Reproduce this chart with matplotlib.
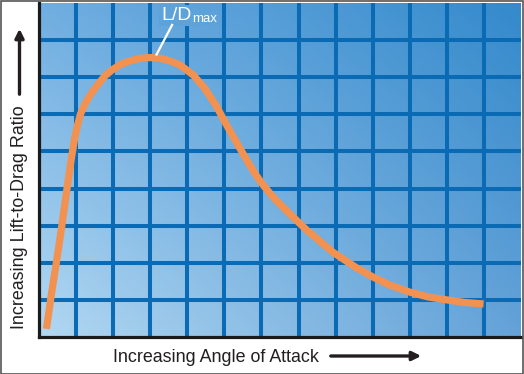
import numpy as np
import matplotlib.pyplot as plt
from matplotlib.patches import Rectangle

# curve (grid cells as units)
aoa = [0.20, 0.34, 0.48, 0.61, 0.75, 0.88, 0.97, 1.04, 1.12, 1.24, 1.40, 1.60,
       1.78, 1.99, 2.21, 2.45, 2.72, 2.99, 3.26, 3.53, 3.80, 4.16, 4.47, 4.79,
       5.06, 5.33, 5.60, 5.82, 6.04, 6.36, 6.68, 7.22, 7.92, 8.57, 9.00, 9.46,
       10.00, 10.49, 11.00, 11.48, 11.99]
lift_drag = [0.22, 1.19, 2.08, 2.96, 3.96, 4.86, 5.40, 5.71, 6.01, 6.28, 6.55, 6.82,
             7.04, 7.21, 7.35, 7.44, 7.51, 7.53, 7.51, 7.44, 7.33, 7.06, 6.70, 6.21,
             5.71, 5.24, 4.77, 4.41, 4.10, 3.72, 3.40, 2.88, 2.29, 1.86, 1.62, 1.40,
             1.21, 1.08, 1.00, 0.93, 0.89]
n_cols = 13
n_rows = 9

W, H = 524, 374
fig = plt.figure(figsize=(W / 100, H / 100), dpi=100)
ax = fig.add_axes([39 / W, (H - 337) / H, (521 - 39) / W, (337 - 3) / H])
plt.rcParams['font.family'] = ['Liberation Sans', 'DejaVu Sans']

# bilinear blue gradient background
bl = np.array([178, 216, 242]) / 255
tl = np.array([112, 174, 225]) / 255
br = np.array([100, 162, 216]) / 255
tr = np.array([52, 138, 204]) / 255
u = np.linspace(0, 1, 200)[None, :, None]
v = np.linspace(0, 1, 150)[:, None, None]
grad = (1 - u) * (1 - v) * bl + u * (1 - v) * br + (1 - u) * v * tl + u * v * tr
ax.imshow(grad, extent=[0, n_cols, 0, n_rows], origin='lower', aspect='auto', zorder=0)

ax.set_xlim(0, n_cols)
ax.set_ylim(0, n_rows)
ax.set_xticks(range(1, n_cols))
ax.set_yticks(range(1, n_rows))
ax.grid(True, color='#0a6ab4', lw=2.9, zorder=1)
ax.tick_params(length=0, labelbottom=False, labelleft=False)
ax.set_axisbelow(False)
for side in ['top', 'right']:
    ax.spines[side].set_visible(False)
for side in ['left', 'bottom']:
    ax.spines[side].set_linewidth(2.3)
    ax.spines[side].set_color('#1a1a1a')
    ax.spines[side].set_zorder(5)

ax.plot(aoa, lift_drag, color='#f39250', lw=5.2, solid_capstyle='butt',
        solid_joinstyle='round', zorder=3)

# L/Dmax label with leader line
peak = int(np.argmax(lift_drag))
bg = '#5da3da'
ax.text(3.3, 8.54, 'L/D', color='white', fontsize=14, ha='left', va='baseline',
        bbox=dict(facecolor=bg, edgecolor='none', pad=1.5), zorder=4)
ax.text(4.13, 8.49, 'max', color='white', fontsize=9.5, ha='left', va='baseline',
        bbox=dict(facecolor=bg, edgecolor='none', pad=1.0), zorder=4)
ax.plot([aoa[peak] + 0.18, aoa[peak] + 0.6], [lift_drag[peak] + 0.08, lift_drag[peak] + 0.88],
        color='white', lw=1.6, zorder=4)

# axis titles with arrows
dark = '#231f20'
fig.text(19.5 / W, 1 - 217 / H, 'Increasing Lift-to-Drag Ratio', rotation=90,
         ha='center', va='center', fontsize=12.9, color=dark)
fig.text(113 / W, 1 - 357 / H, 'Increasing Angle of Attack', ha='left', va='center',
         fontsize=12.9, color=dark)
ax.annotate('', xy=(19.5, H - 26), xytext=(19.5, H - 97), xycoords='figure pixels',
            textcoords='figure pixels',
            arrowprops=dict(arrowstyle='-|>', lw=2.4, color=dark, mutation_scale=13))
ax.annotate('', xy=(424, H - 356), xytext=(328, H - 356), xycoords='figure pixels',
            textcoords='figure pixels',
            arrowprops=dict(arrowstyle='-|>', lw=2.4, color=dark, mutation_scale=13))

fig.add_artist(Rectangle((0.5 / W, 0.5 / H), 1 - 1.5 / W, 1 - 1.5 / H, transform=fig.transFigure,
                         fill=False, edgecolor='#555555', lw=1.2))

fig.savefig('out.png', dpi=100)
